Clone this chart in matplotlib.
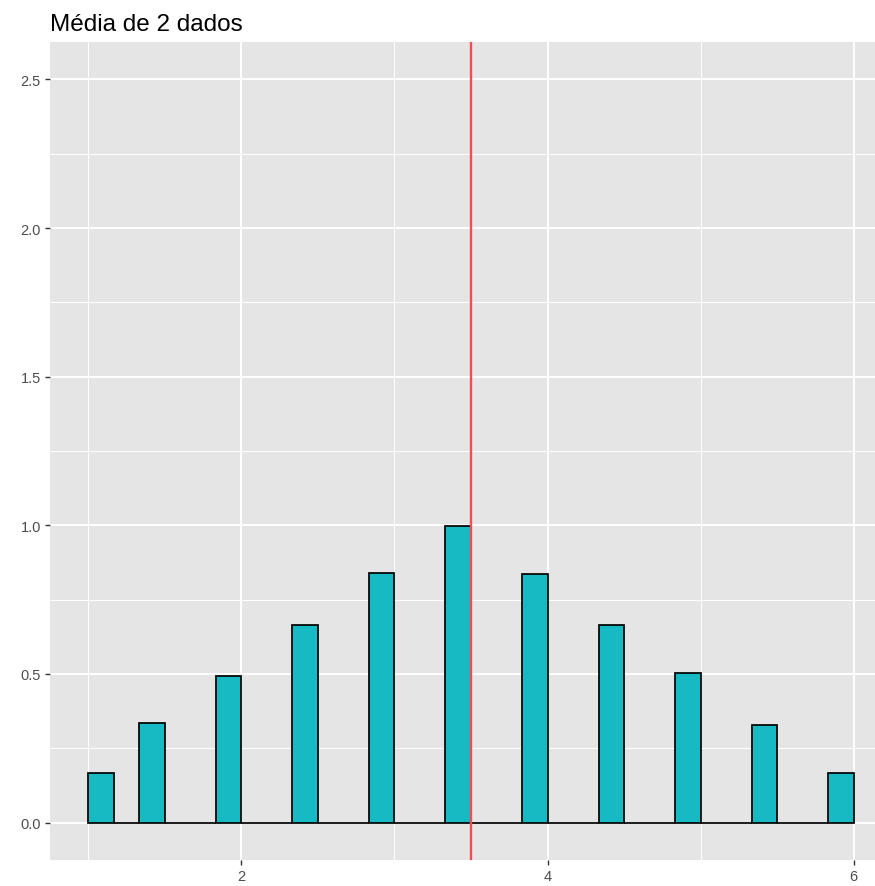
import numpy as np
import matplotlib
matplotlib.use("Agg")
import matplotlib.pyplot as plt
from matplotlib.ticker import MultipleLocator

# mean of two dice and the density
means = [1.0, 1.5, 2.0, 2.5, 3.0, 3.5, 4.0, 4.5, 5.0, 5.5, 6.0]
density = [0.168, 0.336, 0.494, 0.663, 0.841, 0.996, 0.837, 0.663, 0.504, 0.328, 0.168]
mean_line = 3.5
title = "Média de 2 dados"

# 30 bins from 1 to 6, right-closed like ggplot
edges = np.linspace(1, 6, 31)
width = edges[1] - edges[0]
idx = np.clip(np.searchsorted(edges, means, side="left") - 1, 0, 29)
heights = np.zeros(30)
heights[idx] = density

plt.rcParams['font.family'] = ['Liberation Sans', 'DejaVu Sans']

fig = plt.figure(figsize=(8.75, 8.87), dpi=100)
ax = fig.add_axes([50 / 875, 26.3 / 887, 842 / 875, 817.4 / 887])
ax.set_facecolor('#E5E5E5')

ax.bar(edges[:-1], heights, width=width, align='edge', color='#17B9C3',
       edgecolor='black', linewidth=1.25, zorder=3)
ax.axvline(mean_line, color='#EE4F55', linewidth=1.7, zorder=4)

ax.set_xlim(0.75, 6.25)
ax.set_ylim(-0.125, 2.625)
ax.xaxis.set_major_locator(MultipleLocator(2))
ax.xaxis.set_minor_locator(MultipleLocator(1))
ax.yaxis.set_major_locator(MultipleLocator(0.5))
ax.yaxis.set_minor_locator(MultipleLocator(0.25))
ax.yaxis.set_major_formatter(matplotlib.ticker.FormatStrFormatter('%.1f'))

ax.grid(which='major', color='white', linewidth=1.4, zorder=0)
ax.grid(which='minor', color='white', linewidth=0.7, zorder=0)
ax.set_axisbelow(True)
for s in ax.spines.values():
    s.set_visible(False)
ax.tick_params(which='major', length=3.5, width=1, color='#333333',
               labelcolor='#4D4D4D', labelsize=10.5, pad=3)
ax.tick_params(which='minor', length=0)

ax.set_title(title, loc='left', fontsize=17.5, color='black', pad=9)

fig.savefig('out.png', dpi=100)
